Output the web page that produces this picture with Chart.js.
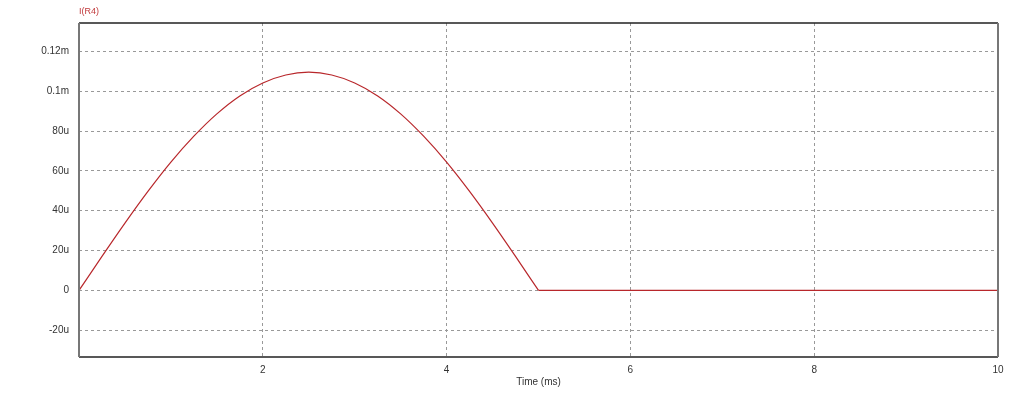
<!DOCTYPE html>
<html>
<head>
<meta charset="utf-8">
<script src="https://cdn.jsdelivr.net/npm/chart.js@4/dist/chart.umd.min.js"></script>
<style>
  html, body { margin: 0; padding: 0; background: #fff; }
  #wrap { width: 1024px; height: 403px; }
</style>
</head>
<body>
<div id="wrap"><canvas id="plot" width="1024" height="403"></canvas></div>
<script>
// time in ms, current in uA
const timeMs = [0, 0.25, 0.5, 0.75, 1, 1.25, 1.5, 1.75, 2, 2.25, 2.5, 2.75, 3, 3.25, 3.5, 3.75, 4, 4.25, 4.5, 4.75, 5, 10];
const currentUA = [0, 17.1, 33.8, 49.7, 64.4, 77.4, 88.6, 97.6, 104.1, 108.1, 109.5, 108.1, 104.1, 97.6, 88.6, 77.4, 64.4, 49.7, 33.8, 17.1, 0, 0];
const yTicks = [-20, 0, 20, 40, 60, 80, 100, 120];
const yTickLabels = ['-20u', '0', '20u', '40u', '60u', '80u', '0.1m', '0.12m'];
const xTicks = [0, 2, 4, 6, 8, 10];
const xTickLabels = ['', '2', '4', '6', '8', '10'];

const points = timeMs.map((t, i) => ({ x: t, y: currentUA[i] }));
// the diode stops conducting at 5 ms: sharp corner there, so the arc and the flat tail are drawn apart
const cut = timeMs.indexOf(5);
const arc = points.slice(0, cut + 1);
const tail = points.slice(cut);

const fontFam = '"Liberation Sans", Arial, sans-serif';
const traceColor = '#b8272b';

// frame around the plot + trace name in the corner
const framePlugin = {
    id: 'frame',
    afterDraw(chart) {
        const ctx = chart.ctx;
        const a = chart.chartArea;
        ctx.save();
        ctx.lineWidth = 1.5;
        ctx.strokeStyle = '#222';
        ctx.beginPath();
        ctx.moveTo(a.left, a.top); ctx.lineTo(a.right, a.top);
        ctx.moveTo(a.left, a.bottom); ctx.lineTo(a.right, a.bottom);
        ctx.stroke();
        ctx.lineWidth = 2;
        ctx.strokeStyle = '#777';
        ctx.beginPath();
        ctx.moveTo(a.left, a.top); ctx.lineTo(a.left, a.bottom);
        ctx.moveTo(a.right, a.top); ctx.lineTo(a.right, a.bottom);
        ctx.stroke();
        ctx.fillStyle = '#c0393b';
        ctx.font = '9px ' + fontFam;
        ctx.textBaseline = 'middle';
        ctx.fillText('I(R4)', a.left, 12);
        ctx.restore();
    }
};

new Chart(document.getElementById('plot'), {
    type: 'line',
    data: {
        datasets: [{
            label: 'I(R4)',
            data: arc,
            borderColor: traceColor,
            borderWidth: 1.2,
            pointRadius: 0,
            fill: false,
            cubicInterpolationMode: 'monotone'
        }, {
            label: 'I(R4) tail',
            data: tail,
            borderColor: traceColor,
            borderWidth: 1.2,
            pointRadius: 0,
            fill: false,
            tension: 0
        }]
    },
    options: {
        responsive: false,
        animation: false,
        layout: { padding: { left: 0, right: 26, top: 23, bottom: 0 } },
        plugins: { legend: { display: false }, tooltip: { enabled: false } },
        scales: {
            x: {
                type: 'linear',
                min: 0,
                max: 10,
                afterFit(scale) { scale.height = 46; },
                afterBuildTicks(scale) { scale.ticks = xTicks.map(v => ({ value: v })); },
                border: { display: false, dash: [3, 3] },
                grid: {
                    color: '#999',
                    lineWidth: 1,
                    drawTicks: false
                },
                ticks: {
                    padding: 7,
                    color: '#333',
                    font: { family: fontFam, size: 10 },
                    maxRotation: 0,
                    callback: v => xTickLabels[xTicks.indexOf(v)] ?? ''
                },
                title: {
                    display: true,
                    text: 'Time (ms)',
                    color: '#333',
                    font: { family: fontFam, size: 10 },
                    padding: { top: 3, bottom: 15 }
                }
            },
            y: {
                min: -33.4,
                max: 134.2,
                afterFit(scale) { scale.width = 79; },
                afterBuildTicks(scale) { scale.ticks = yTicks.map(v => ({ value: v })); },
                border: { display: false, dash: [3, 3] },
                grid: {
                    color: '#999',
                    lineWidth: 1,
                    drawTicks: false
                },
                ticks: {
                    padding: 10,
                    color: '#333',
                    font: { family: fontFam, size: 10 },
                    callback: v => yTickLabels[yTicks.indexOf(v)] ?? ''
                }
            }
        }
    },
    plugins: [framePlugin]
});
</script>
</body>
</html>
